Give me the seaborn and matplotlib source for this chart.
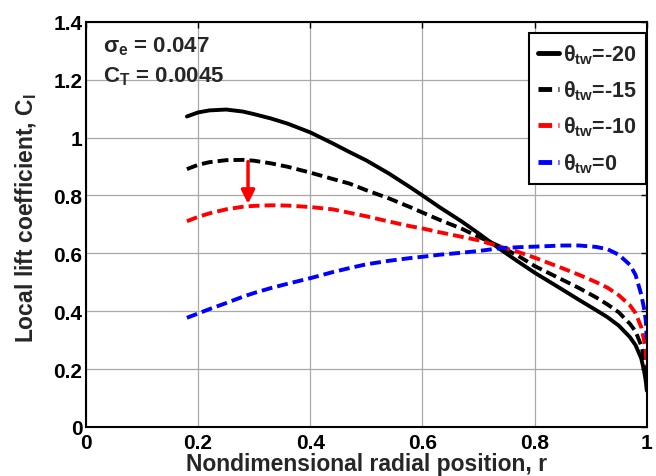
import numpy as np
import pandas as pd
import matplotlib
matplotlib.use("Agg")
import matplotlib.pyplot as plt
import seaborn as sns

# ---- data ----
r = [0.18, 0.20, 0.22, 0.25, 0.28, 0.30, 0.33, 0.36, 0.40, 0.44, 0.47, 0.50, 0.54, 0.58,
     0.60, 0.63, 0.67, 0.70, 0.74, 0.77, 0.80, 0.85, 0.88, 0.91, 0.93, 0.95, 0.97, 0.98,
     0.99, 0.995, 0.998, 1.0]
cl_tw20 = [1.073, 1.087, 1.094, 1.097, 1.090, 1.081, 1.066, 1.048, 1.018, 0.980, 0.950, 0.921,
           0.876, 0.826, 0.800, 0.760, 0.710, 0.669, 0.612, 0.572, 0.533, 0.474, 0.438, 0.403,
           0.379, 0.350, 0.310, 0.282, 0.237, 0.195, 0.160, 0.125]
cl_tw15 = [0.891, 0.906, 0.915, 0.922, 0.923, 0.920, 0.911, 0.899, 0.879, 0.857, 0.841, 0.818,
           0.790, 0.758, 0.741, 0.716, 0.685, 0.657, 0.622, 0.592, 0.556, 0.508, 0.479, 0.447,
           0.423, 0.396, 0.356, 0.330, 0.281, 0.240, 0.215, 0.190]
cl_tw10 = [0.711, 0.726, 0.738, 0.752, 0.761, 0.764, 0.766, 0.765, 0.760, 0.752, 0.740, 0.728,
           0.710, 0.693, 0.686, 0.673, 0.657, 0.645, 0.622, 0.605, 0.585, 0.548, 0.525, 0.500,
           0.481, 0.455, 0.420, 0.393, 0.345, 0.300, 0.260, 0.210]
cl_tw0 = [0.377, 0.392, 0.407, 0.428, 0.450, 0.463, 0.480, 0.495, 0.514, 0.535, 0.549, 0.562,
          0.574, 0.584, 0.588, 0.595, 0.602, 0.608, 0.618, 0.621, 0.623, 0.627, 0.627, 0.622,
          0.614, 0.595, 0.560, 0.525, 0.458, 0.410, 0.370, 0.300]
series_labels = ['-20', '-15', '-10', '0']
xticks = [0, 0.2, 0.4, 0.6, 0.8, 1.0]
xticklabels = ['0', '0.2', '0.4', '0.6', '0.8', '1']
yticks = [0, 0.2, 0.4, 0.6, 0.8, 1.0, 1.2, 1.4]
yticklabels = ['0', '0.2', '0.4', '0.6', '0.8', '1', '1.2', '1.4']
arrow_r = 0.289
arrow_from = 0.917
arrow_to = 0.771
sigma_e = '0.047'
c_t = '0.0045'

# ---- styling ----
sns.set_theme(style='white')
plt.rcParams['font.family'] = ['Liberation Sans', 'DejaVu Sans']
plt.rcParams['font.weight'] = 'bold'
plt.rcParams['mathtext.fontset'] = 'custom'
plt.rcParams['mathtext.rm'] = 'Liberation Sans:bold'
plt.rcParams['mathtext.it'] = 'Liberation Sans:bold'
plt.rcParams['mathtext.bf'] = 'Liberation Sans:bold'
plt.rcParams['mathtext.sf'] = 'Liberation Sans:bold'

fig = plt.figure(figsize=(6.56, 4.77), dpi=100)
ax = fig.add_axes([0.131, 0.103, 0.855, 0.849])

df = pd.DataFrame({
    'r': r * 4,
    'cl': cl_tw20 + cl_tw15 + cl_tw10 + cl_tw0,
    'tw': [s for s in series_labels for _ in r],
})

colors = {'-20': 'black', '-15': 'black', '-10': '#ff0000', '0': '#0000ff'}
dash = (0, (2.8, 1.3))
styles = {'-20': '-', '-15': dash, '-10': dash, '0': dash}

for s in series_labels:
    sub = df[df['tw'] == s]
    sns.lineplot(data=sub, x='r', y='cl', ax=ax, color=colors[s], linewidth=2.8,
                 linestyle=styles[s], label=r'$\theta_{tw}$=' + s, sort=False)

ax.annotate('', xy=(arrow_r, arrow_to), xytext=(arrow_r, arrow_from),
            arrowprops=dict(arrowstyle='-|>', color='#ff0000', lw=2.5,
                            mutation_scale=20, shrinkA=0, shrinkB=0))

ax.set_xlim(0, 1)
ax.set_ylim(0, 1.4)
ax.set_xticks(xticks)
ax.set_xticklabels(xticklabels)
ax.set_yticks(yticks)
ax.set_yticklabels(yticklabels)
ax.grid(True, color='#a8a8a8', linewidth=0.9, linestyle='-')
ax.tick_params(direction='in', length=4, width=1, top=True, right=True,
               labelsize=15, colors='black')
ax.tick_params(axis='y', pad=2.5)
ax.tick_params(axis='x', pad=4.5)
for lab in ax.get_xticklabels() + ax.get_yticklabels():
    lab.set_fontweight('bold')
for sp in ax.spines.values():
    sp.set_color('black')
    sp.set_linewidth(1.5)

ax.set_xlabel('Nondimensional radial position, r', fontsize=16.5, fontweight='bold', labelpad=0)
ax.set_ylabel(r'Local lift coefficient, C$_l$', fontsize=16.5, fontweight='bold')
ax.yaxis.set_label_coords(-0.083, 0.517)

ax.text(0.03, 0.927, r'$\sigma_e$ = ' + sigma_e, transform=ax.transAxes,
        fontsize=16, fontweight='bold', va='baseline', ha='left')
ax.text(0.03, 0.853, r'C$_T$ = ' + c_t, transform=ax.transAxes,
        fontsize=16, fontweight='bold', va='baseline', ha='left')

leg = ax.legend(loc='upper right', bbox_to_anchor=(0.998, 0.972), fontsize=15.5,
                frameon=True, fancybox=False, framealpha=1, edgecolor='black',
                handlelength=1.0, handletextpad=0.15, labelspacing=0.59,
                borderpad=0.42, borderaxespad=0)
leg.get_frame().set_linewidth(1.5)
for t in leg.get_texts():
    t.set_fontweight('bold')
for h in leg.get_lines():
    h.set_linewidth(3.5)

fig.savefig('out.png', dpi=100)
